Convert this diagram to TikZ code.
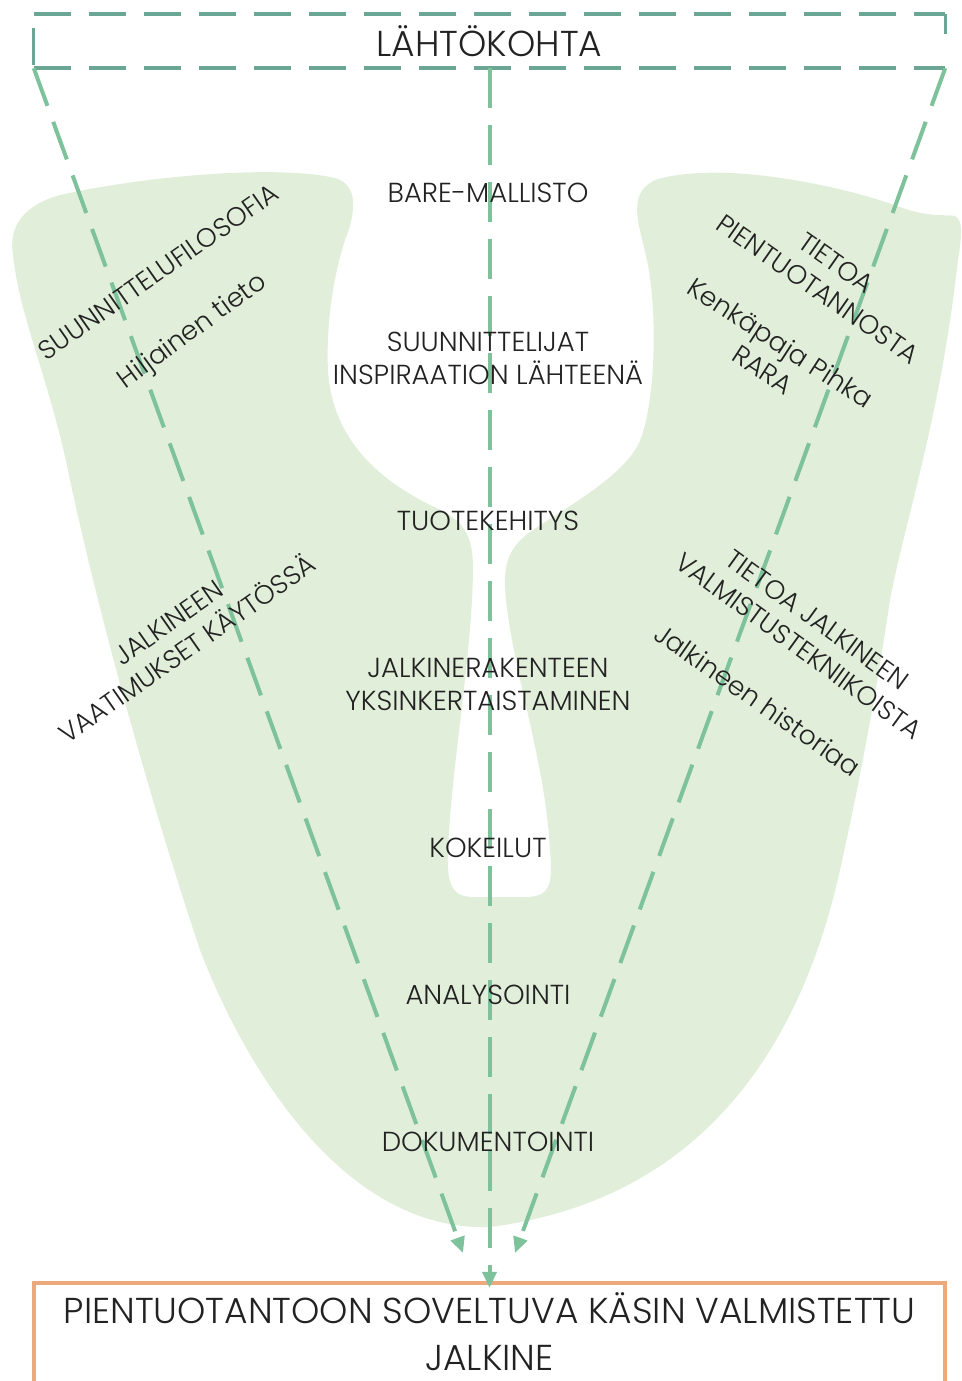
\documentclass[tikz,border=0pt]{standalone}
\usepackage{fontspec}
\IfFontExistsTF{Poppins Light}{\setmainfont{Poppins Light}}{\setmainfont{Poppins}}
\usetikzlibrary{arrows.meta}
\definecolor{leaf}{HTML}{E1EED9}
\definecolor{flowgreen}{HTML}{7DC29A}
\definecolor{frameteal}{HTML}{6BA594}
\definecolor{goalorange}{HTML}{EBA97C}
\definecolor{ink}{HTML}{222222}
\begin{document}
\begin{tikzpicture}[x=1pt,y=-1pt,
  lbl/.style={text=ink, font=\fontsize{27.5}{33}\selectfont, align=center, inner sep=0pt},
  side/.style={lbl, font=\fontsize{26.5}{32}\selectfont},
  flow/.style={draw=flowgreen, line width=4pt, dash pattern=on 40pt off 17pt,
    -{Triangle[length=16pt,width=14pt]}},
  frame/.style={draw=frameteal, line width=4.5pt, dash pattern=on 37pt off 18pt},
  frameside/.style={draw=frameteal, line width=3pt},
  goalline/.style={draw=goalorange, line width=3.5pt}
]
\useasboundingbox (0,0) rectangle (961,1381);

% green field of knowledge
\fill[leaf] (13,255)
  .. controls (8,225) and (25,205) .. (60,195)
  .. controls (150,175) and (280,165) .. (335,178)
  .. controls (360,185) and (355,215) .. (345,240)
  .. controls (332,280) and (326,330) .. (328,370)
  .. controls (332,440) and (380,480) .. (430,505)
  .. controls (460,518) and (472,530) .. (473,565)
  .. controls (473,650) and (452,760) .. (448,850)
  .. controls (446,890) and (455,897) .. (475,897)
  -- (525,897)
  .. controls (550,897) and (553,885) .. (550,850)
  .. controls (545,760) and (515,680) .. (506,600)
  .. controls (503,570) and (505,550) .. (530,532)
  .. controls (570,505) and (620,478) .. (638,445)
  .. controls (655,410) and (658,320) .. (648,265)
  .. controls (640,225) and (625,195) .. (655,180)
  .. controls (720,160) and (840,185) .. (900,207)
  .. controls (930,218) and (945,214) .. (955,216)
  .. controls (963,220) and (962,235) .. (958,260)
  .. controls (940,420) and (905,520) .. (890,600)
  .. controls (875,700) and (860,780) .. (840,870)
  .. controls (800,1050) and (700,1200) .. (490,1227)
  .. controls (350,1232) and (250,1080) .. (200,950)
  .. controls (150,800) and (100,620) .. (70,480)
  .. controls (50,380) and (20,320) .. (13,255) -- cycle;

% starting point and result
\node[lbl, font=\fontsize{36}{40}\selectfont, minimum width=911pt, minimum height=54pt]
  (start) at (489.5,41) {LÄHTÖKOHTA};
\node[lbl, font=\fontsize{36}{47}\selectfont, minimum width=911pt, minimum height=98pt]
  (goal) at (489.5,1332) {PIENTUOTANTOON SOVELTUVA KÄSIN VALMISTETTU\\JALKINE};

\draw[frame] (start.north west) -- (start.north east);
\draw[frame] (start.south west) -- (start.south east);
\draw[frameside] ([yshift=-14pt]start.north west) -- ([yshift=3pt]start.south west);
\draw[frameside] (start.north east) -- ([yshift=-20pt]start.north east);
\draw[goalline] (goal.south west) -- (goal.north west) -- (goal.north east) -- (goal.south east);

% flows towards the result
\coordinate (tipL) at (463,1253);
\coordinate (tipR) at (515,1253);
\draw[flow] (start.south west) -- (tipL);
\draw[flow] (start.south east) -- (tipR);
\draw[flow] (start.south) -- ([yshift=-5pt]goal.north);

% stages along the middle
\node[lbl] (bare) at (488,193) {BARE-MALLISTO};
\node[lbl] (insp) at (488,358) {SUUNNITTELIJAT\\INSPIRAATION LÄHTEENÄ};
\node[lbl] (dev) at (488,521) {TUOTEKEHITYS};
\node[lbl] (simp) at (488,684) {JALKINERAKENTEEN\\YKSINKERTAISTAMINEN};
\node[lbl] (tests) at (488,848) {KOKEILUT};
\node[lbl] (anal) at (488,995) {ANALYSOINTI};
\node[lbl] (docu) at (488,1142) {DOKUMENTOINTI};

% knowledge on the left
\node[side, rotate=35] (philo) at (158,272) {SUUNNITTELUFILOSOFIA};
\node[side, rotate=36] (tacit) at (193,332) {Hiljainen tieto};
\node[side, rotate=35] (needs) at (178,636) {JALKINEEN\\VAATIMUKSET KÄYTÖSSÄ};

% knowledge on the right
\node[side, rotate=-35] (small) at (827,276) {TIETOA\\PIENTUOTANNOSTA};
\node[side, rotate=-33] (pihka) at (772,356) {Kenkäpaja Pihka\\RARA};
\node[side, rotate=-36] (tech) at (808,633) {TIETOA JALKINEEN\\VALMISTUSTEKNIIKOISTA};
\node[side, rotate=-35] (hist) at (758,700) {Jalkineen historiaa};
\end{tikzpicture}
\end{document}
